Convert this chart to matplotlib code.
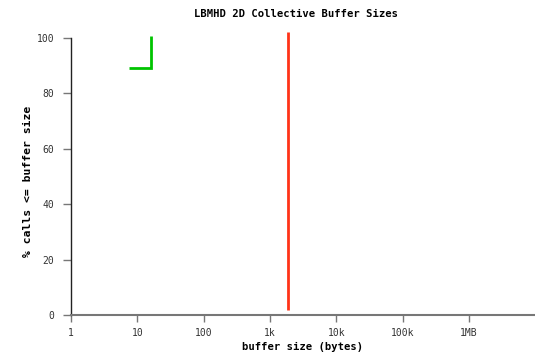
import matplotlib
matplotlib.use("Agg")
import matplotlib.pyplot as plt
from matplotlib.ticker import FixedLocator, NullLocator

# data
green_x = [7.6, 16, 16]
green_y = [89.2, 89.2, 100.7]
red_x = [1889, 1889]
red_y = [1.8, 102.1]
xtick_vals = [1, 10, 100, 1e3, 1e4, 1e5, 1e6]
xtick_labels = ["1", "10", "100", "1k", "10k", "100k", "1MB"]
ytick_vals = [0, 20, 40, 60, 80, 100]

W, H = 535, 356
fig = plt.figure(figsize=(W / 100, H / 100), dpi=100)
L, R, T, B = 71, 534, 38, 315
ax = fig.add_axes([L / W, (H - B) / H, (R - L) / W, (B - T) / H])

mono = "DejaVu Sans Mono"
ax.plot(green_x, green_y, color="#00c400", lw=2, clip_on=False, solid_capstyle="butt", solid_joinstyle="miter")
ax.plot(red_x, red_y, color="#ff3318", lw=2, clip_on=False, solid_capstyle="butt")

ax.set_xscale("log")
ax.set_xlim(1, 10 ** 6.98)
ax.set_ylim(0, 100)
ax.xaxis.set_major_locator(FixedLocator(xtick_vals))
ax.xaxis.set_minor_locator(NullLocator())
ax.set_xticks(xtick_vals)
ax.set_xticklabels(xtick_labels, fontfamily=mono, fontsize=7, color="#333333")
ax.set_yticks(ytick_vals)
ax.set_yticklabels([str(v) for v in ytick_vals], fontfamily=mono, fontsize=7, color="#333333")

for s in ["top", "right"]:
    ax.spines[s].set_visible(False)
ax.spines["left"].set_color("#222222")
ax.spines["left"].set_linewidth(1)
ax.spines["bottom"].set_color("#777777")
ax.spines["bottom"].set_linewidth(1.5)
ax.tick_params(axis="y", direction="out", length=6, width=1, color="#777777", pad=6)
ax.tick_params(axis="x", direction="out", length=5, width=1, color="#777777", pad=4)

fig.text(295.5 / W, 1 - 14 / H, "LBMHD 2D Collective Buffer Sizes", fontfamily=mono,
         fontsize=7.6, fontweight="bold", ha="center", va="center")
fig.text(302.5 / W, 1 - 347 / H, "buffer size (bytes)", fontfamily=mono,
         fontsize=7.6, fontweight="bold", ha="center", va="center")
fig.text(28.5 / W, 1 - 181 / H, "% calls <= buffer size", fontfamily=mono,
         fontsize=8.2, fontweight="bold", ha="center", va="center", rotation=90)

fig.savefig("out.png", dpi=100)
